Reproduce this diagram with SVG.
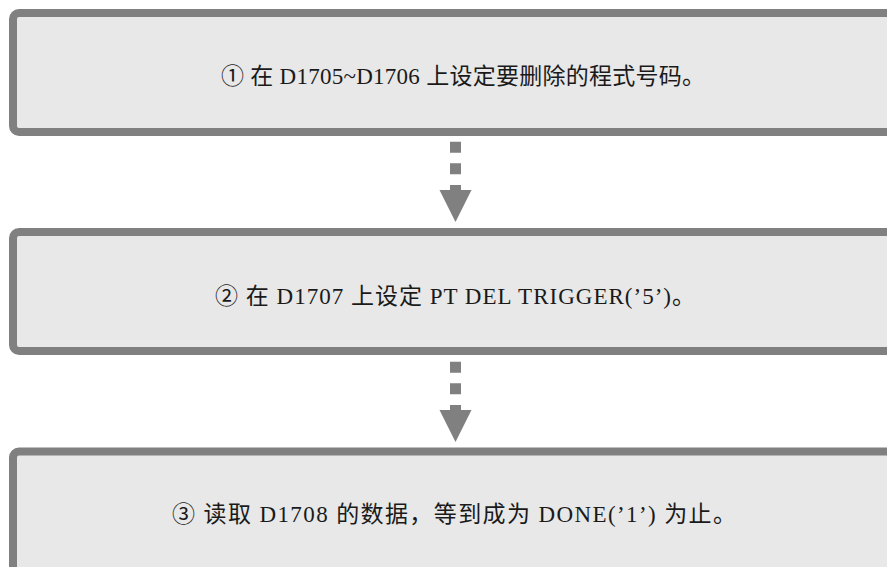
<svg xmlns="http://www.w3.org/2000/svg" width="887" height="567" viewBox="0 0 887 567">
<style>
.box{fill:#e8e8e8;stroke:#808080;stroke-width:8}
.lbl{font-family:"Liberation Serif","Noto Sans CJK SC",serif;font-size:23px;fill:#1a1a1a}
.stem{stroke:#808080;stroke-width:11;stroke-dasharray:11 10.6;fill:none}
.head{fill:#808080}
</style>
<rect width="887" height="567" fill="#ffffff"/>
<g id="step1">
<rect class="box" x="13" y="13" width="900" height="119" rx="6"/>
<text class="lbl" x="221" y="84" textLength="484" lengthAdjust="spacing">①  在 D1705~D1706 上设定要删除的程式号码。</text>
</g>
<g id="step2">
<rect class="box" x="13" y="232" width="900" height="119" rx="6"/>
<text class="lbl" x="215" y="304" textLength="480" lengthAdjust="spacing">② 在 D1707 上设定 PT DEL TRIGGER(’5’)。</text>
</g>
<g id="step3">
<rect class="box" x="13" y="451.5" width="900" height="140" rx="6"/>
<text class="lbl" x="172" y="522" textLength="564" lengthAdjust="spacing">③ 读取 D1708 的数据，等到成为 DONE(’1’) 为止。</text>
</g>
<g id="connectors">
<line class="stem" x1="455.5" y1="141.7" x2="455.5" y2="195"/>
<polygon class="head" points="439.5,190 471.5,190 455.5,222"/>
<line class="stem" x1="455.5" y1="361.7" x2="455.5" y2="415"/>
<polygon class="head" points="439.5,410 471.5,410 455.5,442"/>
</g>
</svg>
